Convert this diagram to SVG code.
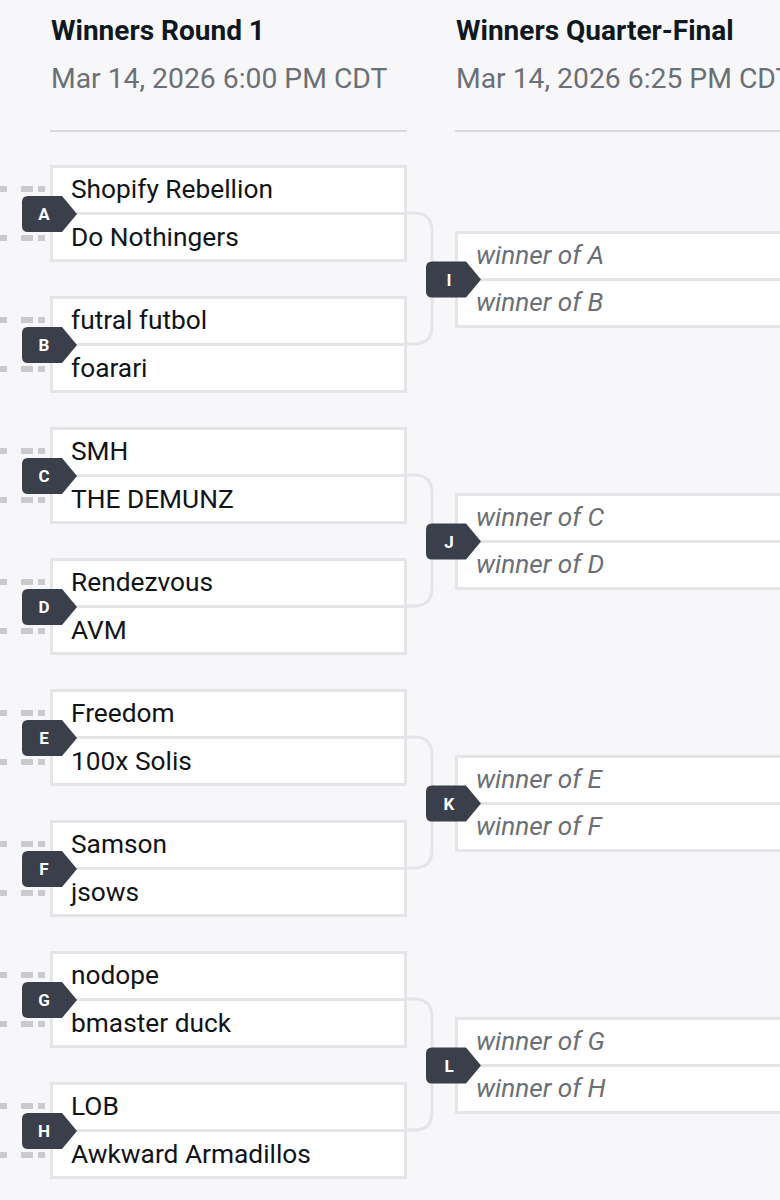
<svg xmlns="http://www.w3.org/2000/svg" width="780" height="1200" viewBox="0 0 780 1200">
<style>
.bg{fill:#f7f7f9}
.hd{font-family:Roboto,"Liberation Sans",sans-serif;font-weight:700;font-size:28px;fill:#0f1720}
.dt{font-family:Roboto,"Liberation Sans",sans-serif;font-size:28.3px;fill:#6b6f76}
.rule{stroke:#d9dadd;stroke-width:2}
.box{fill:#ffffff;stroke:#e4e5e7;stroke-width:3}
.div{stroke:#e4e5e7;stroke-width:3}
.tm{font-family:Roboto,"Liberation Sans",sans-serif;font-size:26.3px;fill:#111418}
.wo{font-family:Roboto,"Liberation Sans",sans-serif;font-style:italic;font-size:26.2px;fill:#6b6f76}
.bd{fill:#3a3f4b}
.bl{font-family:Roboto,"Liberation Sans",sans-serif;font-weight:700;font-size:17px;fill:#ffffff;text-anchor:middle}
.cn{fill:none;stroke:#e4e5e7;stroke-width:3}
.dash{fill:#c9cacd}
</style>
<defs>
<path id="badge" d="M6,-18 H40 L55,0 L40,18 H6 Q0,18 0,12 V-12 Q0,-18 6,-18 Z"/>
<g id="dashes">
<rect x="0" y="-3" width="7" height="6"/>
<rect x="21" y="-3" width="12" height="6"/>
<rect x="38" y="-3" width="7" height="6"/>
</g>
</defs>
<rect class="bg" x="0" y="0" width="780" height="1200"/>

<g id="header-r1">
<text class="hd" x="51" y="40">Winners Round 1</text>
<text class="dt" x="51" y="88">Mar 14, 2026 6:00 PM CDT</text>
<line class="rule" x1="50" y1="131" x2="407" y2="131"/>
</g>
<g id="header-qf">
<text class="hd" x="456" y="40">Winners Quarter-Final</text>
<text class="dt" x="456" y="88">Mar 14, 2026 6:25 PM CDT</text>
<line class="rule" x1="455" y1="131" x2="780" y2="131"/>
</g>

<g id="connectors">
<path class="cn" d="M406,213 H414 Q432,213 432,231 V326 Q432,344 414,344 H406"/>
<path class="cn" d="M406,475 H414 Q432,475 432,493 V588 Q432,606 414,606 H406"/>
<path class="cn" d="M406,737 H414 Q432,737 432,755 V850 Q432,868 414,868 H406"/>
<path class="cn" d="M406,999 H414 Q432,999 432,1017 V1112 Q432,1130 414,1130 H406"/>
</g>

<g id="match-A">
<use href="#dashes" class="dash" x="0" y="189"/><use href="#dashes" class="dash" x="0" y="238"/>
<rect class="box" x="51.5" y="166.5" width="354" height="94"/>
<line class="div" x1="51.5" y1="213.5" x2="405.5" y2="213.5"/>
<text class="tm" x="71" y="198">Shopify Rebellion</text>
<text class="tm" x="71" y="246">Do Nothingers</text>
<use href="#badge" class="bd" x="22" y="214"/><text class="bl" x="44" y="220">A</text>
</g>
<g id="match-B">
<use href="#dashes" class="dash" x="0" y="320"/><use href="#dashes" class="dash" x="0" y="369"/>
<rect class="box" x="51.5" y="297.5" width="354" height="94"/>
<line class="div" x1="51.5" y1="344.5" x2="405.5" y2="344.5"/>
<text class="tm" x="71" y="329">futral futbol</text>
<text class="tm" x="71" y="377">foarari</text>
<use href="#badge" class="bd" x="22" y="345"/><text class="bl" x="44" y="351">B</text>
</g>
<g id="match-C">
<use href="#dashes" class="dash" x="0" y="451"/><use href="#dashes" class="dash" x="0" y="500"/>
<rect class="box" x="51.5" y="428.5" width="354" height="94"/>
<line class="div" x1="51.5" y1="475.5" x2="405.5" y2="475.5"/>
<text class="tm" x="71" y="460">SMH</text>
<text class="tm" x="71" y="508">THE DEMUNZ</text>
<use href="#badge" class="bd" x="22" y="476"/><text class="bl" x="44" y="482">C</text>
</g>
<g id="match-D">
<use href="#dashes" class="dash" x="0" y="582"/><use href="#dashes" class="dash" x="0" y="631"/>
<rect class="box" x="51.5" y="559.5" width="354" height="94"/>
<line class="div" x1="51.5" y1="606.5" x2="405.5" y2="606.5"/>
<text class="tm" x="71" y="591">Rendezvous</text>
<text class="tm" x="71" y="639">AVM</text>
<use href="#badge" class="bd" x="22" y="607"/><text class="bl" x="44" y="613">D</text>
</g>
<g id="match-E">
<use href="#dashes" class="dash" x="0" y="713"/><use href="#dashes" class="dash" x="0" y="762"/>
<rect class="box" x="51.5" y="690.5" width="354" height="94"/>
<line class="div" x1="51.5" y1="737.5" x2="405.5" y2="737.5"/>
<text class="tm" x="71" y="722">Freedom</text>
<text class="tm" x="71" y="770">100x Solis</text>
<use href="#badge" class="bd" x="22" y="738"/><text class="bl" x="44" y="744">E</text>
</g>
<g id="match-F">
<use href="#dashes" class="dash" x="0" y="844"/><use href="#dashes" class="dash" x="0" y="893"/>
<rect class="box" x="51.5" y="821.5" width="354" height="94"/>
<line class="div" x1="51.5" y1="868.5" x2="405.5" y2="868.5"/>
<text class="tm" x="71" y="853">Samson</text>
<text class="tm" x="71" y="901">jsows</text>
<use href="#badge" class="bd" x="22" y="869"/><text class="bl" x="44" y="875">F</text>
</g>
<g id="match-G">
<use href="#dashes" class="dash" x="0" y="975"/><use href="#dashes" class="dash" x="0" y="1024"/>
<rect class="box" x="51.5" y="952.5" width="354" height="94"/>
<line class="div" x1="51.5" y1="999.5" x2="405.5" y2="999.5"/>
<text class="tm" x="71" y="984">nodope</text>
<text class="tm" x="71" y="1032">bmaster duck</text>
<use href="#badge" class="bd" x="22" y="1000"/><text class="bl" x="44" y="1006">G</text>
</g>
<g id="match-H">
<use href="#dashes" class="dash" x="0" y="1106"/><use href="#dashes" class="dash" x="0" y="1155"/>
<rect class="box" x="51.5" y="1083.5" width="354" height="94"/>
<line class="div" x1="51.5" y1="1130.5" x2="405.5" y2="1130.5"/>
<text class="tm" x="71" y="1115">LOB</text>
<text class="tm" x="71" y="1163">Awkward Armadillos</text>
<use href="#badge" class="bd" x="22" y="1131"/><text class="bl" x="44" y="1137">H</text>
</g>

<g id="match-I">
<rect class="box" x="456.5" y="232.5" width="340" height="94"/>
<line class="div" x1="456.5" y1="279.5" x2="780" y2="279.5"/>
<text class="wo" x="476" y="264">winner of A</text>
<text class="wo" x="476" y="311">winner of B</text>
<use href="#badge" class="bd" x="426" y="279.5"/><text class="bl" x="449" y="285.5">I</text>
</g>
<g id="match-J">
<rect class="box" x="456.5" y="494.5" width="340" height="94"/>
<line class="div" x1="456.5" y1="541.5" x2="780" y2="541.5"/>
<text class="wo" x="476" y="526">winner of C</text>
<text class="wo" x="476" y="573">winner of D</text>
<use href="#badge" class="bd" x="426" y="541.5"/><text class="bl" x="449" y="547.5">J</text>
</g>
<g id="match-K">
<rect class="box" x="456.5" y="756.5" width="340" height="94"/>
<line class="div" x1="456.5" y1="803.5" x2="780" y2="803.5"/>
<text class="wo" x="476" y="788">winner of E</text>
<text class="wo" x="476" y="835">winner of F</text>
<use href="#badge" class="bd" x="426" y="803.5"/><text class="bl" x="449" y="809.5">K</text>
</g>
<g id="match-L">
<rect class="box" x="456.5" y="1018.5" width="340" height="94"/>
<line class="div" x1="456.5" y1="1065.5" x2="780" y2="1065.5"/>
<text class="wo" x="476" y="1050">winner of G</text>
<text class="wo" x="476" y="1097">winner of H</text>
<use href="#badge" class="bd" x="426" y="1065.5"/><text class="bl" x="449" y="1071.5">L</text>
</g>
</svg>
